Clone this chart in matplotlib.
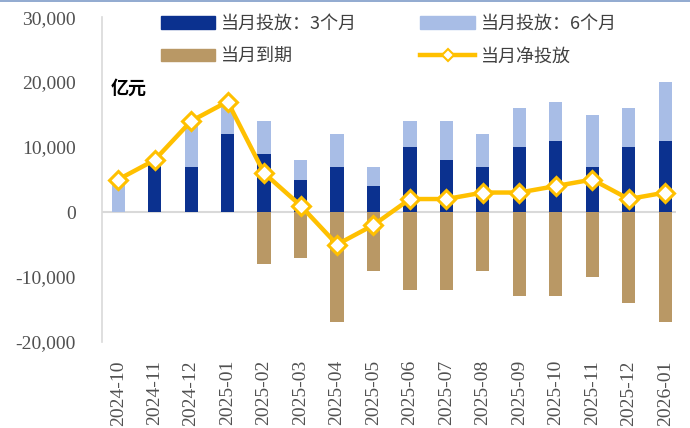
import numpy as np
import matplotlib
matplotlib.use("Agg")
import matplotlib.pyplot as plt
from matplotlib.lines import Line2D
from matplotlib.ticker import FuncFormatter

months = ["2024-10", "2024-11", "2024-12", "2025-01", "2025-02", "2025-03",
          "2025-04", "2025-05", "2025-06", "2025-07", "2025-08", "2025-09",
          "2025-10", "2025-11", "2025-12", "2026-01"]
put_3m = [0, 8000, 7000, 12000, 9000, 5000, 7000, 4000,
          10000, 8000, 7000, 10000, 11000, 7000, 10000, 11000]
put_6m = [5000, 0, 7000, 5000, 5000, 3000, 5000, 3000,
          4000, 6000, 5000, 6000, 6000, 8000, 6000, 9000]
maturity = [0, 0, 0, 0, -8000, -7000, -17000, -9000,
            -12000, -12000, -9000, -13000, -13000, -10000, -14000, -17000]
net_put = [5000, 8000, 14000, 17000, 6000, 1000, -5000, -2000,
           2000, 2000, 3000, 3000, 4000, 5000, 2000, 3000]

c_3m = "#0B318F"
c_6m = "#A8BDE6"
c_mat = "#B99865"
c_net = "#FFC000"

cjk = ["Noto Sans CJK SC", "DejaVu Sans"]
serif = "Liberation Serif"

fig = plt.figure(figsize=(6.9, 4.28), dpi=100)
ax = fig.add_axes([0.148, 0.201, 0.832, 0.759])

x = np.arange(len(months))
w = 0.36
ax.bar(x, put_3m, w, color=c_3m, zorder=2)
ax.bar(x, put_6m, w, bottom=put_3m, color=c_6m, zorder=2)
ax.bar(x, maturity, w, color=c_mat, zorder=2)
ax.axhline(0, color="#D9D9D9", lw=1.5, zorder=1)
ax.plot(x, net_put, color=c_net, lw=3.2, marker="D", markersize=9,
        markerfacecolor="white", markeredgecolor=c_net, markeredgewidth=2.2, zorder=3)

ax.set_xlim(-0.44, 15.3)
ax.set_ylim(-20000, 30000)
ax.set_yticks(np.arange(-20000, 30001, 10000))
ax.yaxis.set_major_formatter(FuncFormatter(lambda v, p: f"{int(v):,}"))
ax.set_xticks(x)
ax.set_xticklabels(months, rotation=90)
for lab in ax.get_xticklabels() + ax.get_yticklabels():
    lab.set_fontfamily(serif)
    lab.set_fontsize(14)
    lab.set_color("#505050")
ax.tick_params(axis="y", length=0, pad=19)
ax.tick_params(axis="x", length=0, pad=13)

for s in ["top", "right", "bottom"]:
    ax.spines[s].set_visible(False)
ax.spines["left"].set_color("#D9D9D9")
ax.spines["left"].set_linewidth(1.2)

fig.text(0.160, 0.795, "亿元", fontfamily=cjk, fontsize=13, fontweight="bold", ha="left", va="center")

handles = [
    plt.Rectangle((0, 0), 1, 1, color=c_3m),
    plt.Rectangle((0, 0), 1, 1, color=c_6m),
    plt.Rectangle((0, 0), 1, 1, color=c_mat),
    Line2D([0], [0], color=c_net, lw=3.2, marker="D", markersize=6,
           markerfacecolor="white", markeredgecolor=c_net, markeredgewidth=1.5),
]
labels = ["当月投放：3个月", "当月投放：6个月", "当月到期", "当月净投放"]
order = [0, 2, 1, 3]
leg = fig.legend([handles[i] for i in order], [labels[i] for i in order],
                 ncol=2, loc="upper left", bbox_to_anchor=(0.210, 1.004),
                 frameon=False, prop={"family": cjk, "size": 13},
                 handlelength=3.0, handleheight=0.72, columnspacing=3.5,
                 labelspacing=0.82, handletextpad=0.33)
for t in leg.get_texts():
    t.set_color("#404040")

fig.add_artist(Line2D([0, 1], [0.998, 0.998], color="#7F9CC8", lw=1.2, transform=fig.transFigure))

fig.savefig("out.png", dpi=100)
